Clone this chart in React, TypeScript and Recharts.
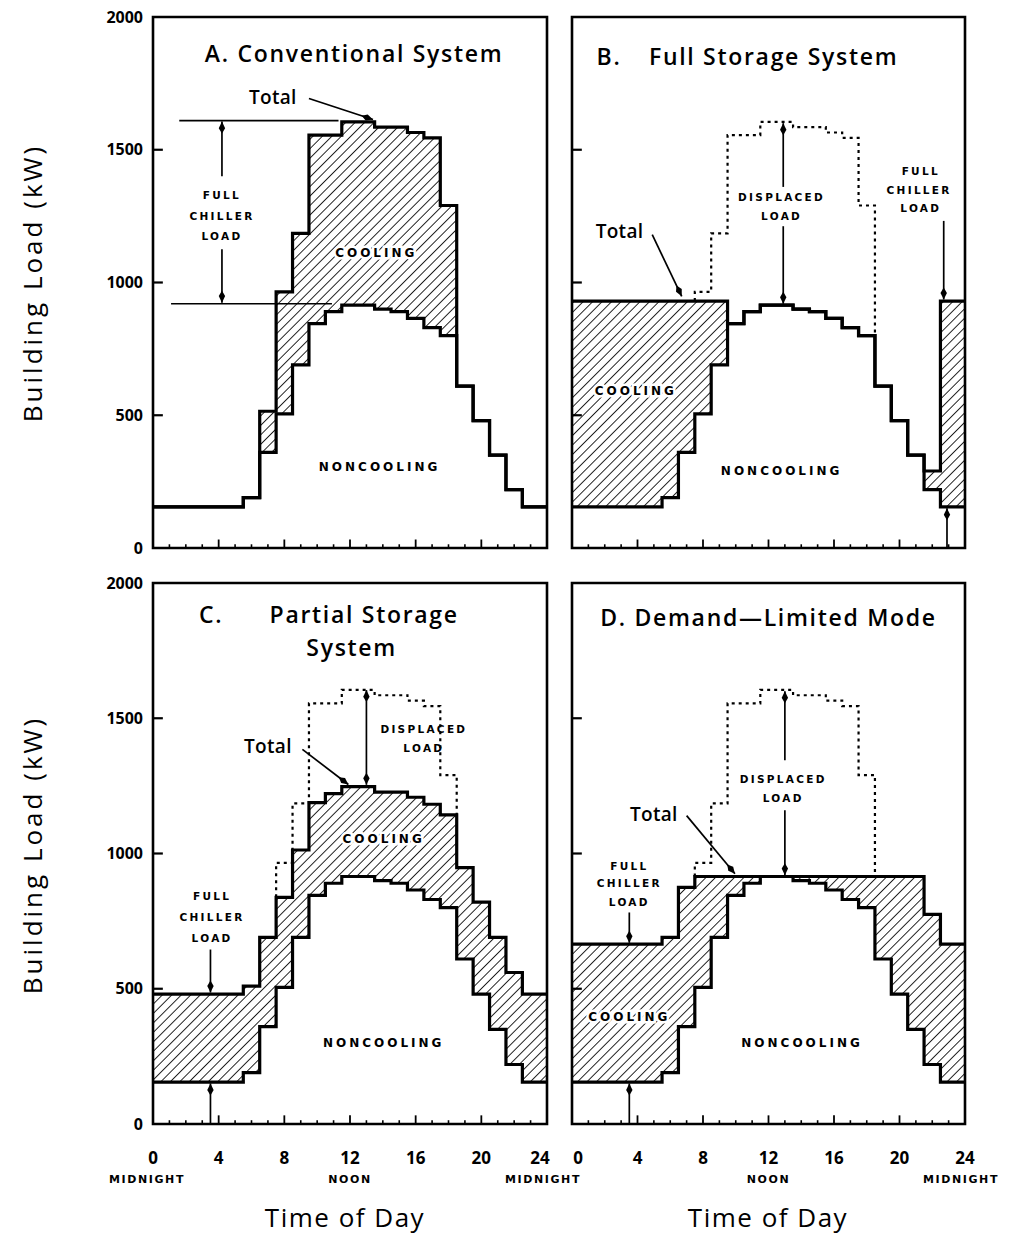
import React from 'react';
import {
  ComposedChart,
  Area,
  Line,
  XAxis,
  YAxis,
  ReferenceLine,
  ReferenceDot,
  ReferenceArea,
} from 'recharts';

// ---------------- data ----------------
// each hourly value h applies from h-0.5 to h+0.5 (clipped to the day)
const HOUR_STARTS = [0, 0.5, 1.5, 2.5, 3.5, 4.5, 5.5, 6.5, 7.5, 8.5, 9.5, 10.5, 11.5, 12.5, 13.5, 14.5, 15.5, 16.5, 17.5, 18.5, 19.5, 20.5, 21.5, 22.5, 23.5];
const DAY_END = 24;
const X_TICKS = [0, 4, 8, 12, 16, 20, 24];
const Y_TICKS = [0, 500, 1000, 1500, 2000];
const Y_INNER_TICKS = [500, 1000, 1500];
const MINOR_HOURS = [1, 2, 3, 5, 6, 7, 9, 10, 11, 13, 14, 15, 17, 18, 19, 21, 22, 23];
const MAJOR_HOURS = [4, 8, 12, 16, 20];

const NONCOOLING = [155, 155, 155, 155, 155, 155, 190, 360, 505, 690, 845, 890, 915, 915, 900, 890, 865, 830, 800, 610, 480, 350, 220, 155, 155];
const CONVENTIONAL_TOTAL = [155, 155, 155, 155, 155, 155, 190, 515, 965, 1185, 1555, 1555, 1605, 1605, 1585, 1585, 1565, 1545, 1290, 610, 480, 350, 220, 155, 155];
const FULL_STORAGE_TOTAL = [930, 930, 930, 930, 930, 930, 930, 930, 930, 930, 845, 890, 915, 915, 900, 890, 865, 830, 800, 610, 480, 350, 290, 930, 930];
const PARTIAL_STORAGE_TOTAL = [480, 480, 480, 480, 480, 480, 510, 690, 838, 1013, 1188, 1221, 1247, 1247, 1227, 1227, 1208, 1182, 1143, 948, 820, 690, 560, 480, 480];
const DEMAND_LIMITED_TOTAL = [665, 665, 665, 665, 665, 665, 690, 875, 915, 915, 915, 915, 915, 915, 915, 915, 915, 915, 915, 915, 915, 915, 775, 665, 665];

function buildRows(total: number[]) {
  const xs = [...HOUR_STARTS, DAY_END];
  return xs.map((x, i) => {
    const h = Math.min(i, 24);
    return { x, non: NONCOOLING[h], tot: total[h], cool: [NONCOOLING[h], total[h]] };
  });
}

// dotted "conventional" curve, drawn where it exceeds the panel's total
function buildDisplaced(total: number[]) {
  const pts: { x: number; y: number | null }[] = [];
  for (let h = 0; h <= 24; h++) {
    const x = HOUR_STARTS[h];
    const on = CONVENTIONAL_TOTAL[h] > total[h];
    const prevOn = h > 0 && CONVENTIONAL_TOTAL[h - 1] > total[h - 1];
    if (on && !prevOn) {
      pts.push({ x, y: total[h] });
      pts.push({ x, y: CONVENTIONAL_TOTAL[h] });
    } else if (on) {
      pts.push({ x, y: CONVENTIONAL_TOTAL[h] });
    } else if (prevOn) {
      pts.push({ x, y: total[h - 1] });
      pts.push({ x, y: null });
    }
  }
  return pts;
}

// ---------------- styles ----------------
const FONT = "'Open Sans', 'DejaVu Sans', sans-serif";
const CAPS = "'DejaVu Sans', sans-serif";

type Kind = 'title' | 'total' | 'caps' | 'small';
const KIND_STYLE: Record<Kind, any> = {
  title: { fontFamily: FONT, fontSize: 23, fontWeight: 600, letterSpacing: 1.7 },
  total: { fontFamily: FONT, fontSize: 19, fontWeight: 600, letterSpacing: 0.3 },
  caps: { fontFamily: CAPS, fontSize: 12, fontWeight: 700, letterSpacing: 3 },
  small: { fontFamily: CAPS, fontSize: 10.5, fontWeight: 700, letterSpacing: 2.3 },
};

function note(x: number, y: number, text: string, kind: Kind, anchor: 'middle' | 'start' = 'middle') {
  const st = KIND_STYLE[kind];
  const halo = kind === 'caps';
  return (
    <ReferenceDot
      key={`n-${x}-${y}-${text}`}
      x={x}
      y={y}
      r={0}
      ifOverflow="visible"
      shape={(p: any) => (
        <text
          x={p.cx}
          y={p.cy}
          textAnchor={anchor}
          dominantBaseline="central"
          fill="#000"
          stroke={halo ? '#fff' : 'none'}
          strokeWidth={halo ? 5 : 0}
          paintOrder="stroke"
          style={st}
        >
          {text}
        </text>
      )}
    />
  );
}

function arrowShape(heads: 'end' | 'both', hl = 12, hw = 3.2, sw = 1.7) {
  return (p: any) => {
    const { x1, y1, x2, y2 } = p;
    const dx = x2 - x1;
    const dy = y2 - y1;
    const len = Math.hypot(dx, dy) || 1;
    const ux = dx / len;
    const uy = dy / len;
    const nx = -uy;
    const ny = ux;
    const head = (tx: number, ty: number, sx: number, sy: number) =>
      `${tx},${ty} ${tx - sx * hl * 0.55 + nx * hw},${ty - sy * hl * 0.55 + ny * hw} ${tx - sx * hl},${ty - sy * hl} ${tx - sx * hl * 0.55 - nx * hw},${ty - sy * hl * 0.55 - ny * hw}`;
    return (
      <g>
        <line x1={x1} y1={y1} x2={x2} y2={y2} stroke="#000" strokeWidth={sw} />
        <polygon points={head(x2, y2, ux, uy)} fill="#000" />
        {heads === 'both' && <polygon points={head(x1, y1, -ux, -uy)} fill="#000" />}
      </g>
    );
  };
}

function arrow(x1: number, y1: number, x2: number, y2: number, heads: 'end' | 'both' = 'end') {
  return (
    <ReferenceLine
      key={`a-${x1}-${y1}-${x2}-${y2}`}
      segment={[{ x: x1, y: y1 }, { x: x2, y: y2 }]}
      ifOverflow="visible"
      shape={arrowShape(heads)}
    />
  );
}

function seg(x1: number, y1: number, x2: number, y2: number, w = 1.7, key = '') {
  return (
    <ReferenceLine
      key={`s-${key}-${x1}-${y1}-${x2}-${y2}`}
      segment={[{ x: x1, y: y1 }, { x: x2, y: y2 }]}
      stroke="#000"
      strokeWidth={w}
      ifOverflow="visible"
    />
  );
}

const renderXTick = (side: 'left' | 'right') => (p: any) => {
  const v = p.payload.value;
  let shift = 0;
  if (side === 'left' && v === 24) shift = -7;
  if (side === 'right' && v === 0) shift = 6;
  let sub = '';
  if (v === 12) sub = 'NOON';
  if (v === 24) sub = 'MIDNIGHT';
  if (v === 0 && side === 'left') sub = 'MIDNIGHT';
  return (
    <g>
      <text
        x={p.x + shift}
        y={p.y + 32}
        textAnchor="middle"
        fill="#000"
        style={{ fontFamily: FONT, fontSize: 17, fontWeight: 700 }}
      >
        {v}
      </text>
      {sub && (
        <text
          x={p.x + (v === 24 ? -4 : v === 0 ? -6 : 0)}
          y={p.y + 51}
          textAnchor="middle"
          fill="#000"
          style={{ fontFamily: CAPS, fontSize: 11, fontWeight: 700, letterSpacing: 1.6 }}
        >
          {sub}
        </text>
      )}
    </g>
  );
};

interface PanelProps {
  id: string;
  left: number;
  top: number;
  width: number;
  height: number;
  margin: { top: number; right: number; bottom: number; left: number };
  total: number[];
  displaced: boolean;
  showY: boolean;
  showX: boolean;
  side: 'left' | 'right';
  notes: React.ReactNode[];
}

function Panel(props: PanelProps) {
  const { id, left, top, width, height, margin, total, displaced, showY, showX, side, notes } = props;
  const rows = buildRows(total);
  const dotted = displaced ? buildDisplaced(total) : null;
  return (
    <div style={{ position: 'absolute', left, top }}>
      <ComposedChart width={width} height={height} data={rows} margin={margin}>
        <defs>
          <pattern id={id} patternUnits="userSpaceOnUse" width="6.7" height="6.7" patternTransform="rotate(45)">
            <line x1="0" y1="0" x2="0" y2="6.7" stroke="#000" strokeWidth="1.7" />
          </pattern>
        </defs>
        <XAxis
          type="number"
          dataKey="x"
          domain={[0, 24]}
          ticks={X_TICKS}
          interval={0}
          hide={!showX}
          height={66}
          axisLine={false}
          tickLine={false}
          tick={renderXTick(side)}
        />
        <YAxis
          type="number"
          domain={[0, 2000]}
          ticks={Y_TICKS}
          interval={0}
          hide={!showY}
          width={93}
          axisLine={false}
          tickLine={false}
          tickMargin={4}
          tick={{ fill: '#000', fontSize: 16, fontWeight: 700, fontFamily: FONT }}
        />
        <Area
          dataKey="cool"
          type="stepAfter"
          fill={`url(#${id})`}
          fillOpacity={1}
          stroke="none"
          isAnimationActive={false}
          activeDot={false}
        />
        <Line dataKey="non" type="stepAfter" stroke="#000" strokeWidth={3.2} dot={false} activeDot={false} isAnimationActive={false} />
        <Line dataKey="tot" type="stepAfter" stroke="#000" strokeWidth={3.2} dot={false} activeDot={false} isAnimationActive={false} />
        {dotted && (
          <Line
            data={dotted}
            dataKey="y"
            type="stepAfter"
            stroke="#000"
            strokeWidth={2.2}
            strokeDasharray="3 4"
            connectNulls={false}
            dot={false}
            activeDot={false}
            isAnimationActive={false}
          />
        )}
        <ReferenceArea x1={0} x2={24} y1={0} y2={2000} fill="none" stroke="#000" strokeWidth={2.6} ifOverflow="visible" />
        {Y_INNER_TICKS.map((v) => seg(0, v, 0.6, v, 2.2, 'y'))}
        {MINOR_HOURS.map((h) => seg(h, 0, h, 14, 1.6, 'mi'))}
        {MAJOR_HOURS.map((h) => seg(h, 0, h, 32, 1.8, 'ma'))}
        {notes}
      </ComposedChart>
    </div>
  );
}

const notesA = [
  note(12.25, 1865, 'A. Conventional System', 'title'),
  note(7.3, 1700, 'Total', 'total'),
  arrow(9.5, 1693, 13.4, 1614),
  seg(1.6, 1610, 11.3, 1610, 1.7, 'fa'),
  seg(1.1, 920, 10.9, 920, 1.7, 'fb'),
  arrow(4.2, 1400, 4.2, 1606),
  arrow(4.2, 1125, 4.2, 924),
  note(4.2, 1328, 'FULL', 'small'),
  note(4.2, 1252, 'CHILLER', 'small'),
  note(4.2, 1176, 'LOAD', 'small'),
  note(13.6, 1110, 'COOLING', 'caps'),
  note(13.8, 305, 'NONCOOLING', 'caps'),
];

const notesB = [
  note(1.5, 1853, 'B.', 'title', 'start'),
  note(4.7, 1853, 'Full Storage System', 'title', 'start'),
  note(2.9, 1195, 'Total', 'total'),
  arrow(4.9, 1180, 6.7, 948),
  note(12.8, 1322, 'DISPLACED', 'small'),
  note(12.8, 1250, 'LOAD', 'small'),
  arrow(12.9, 1360, 12.9, 1600),
  arrow(12.9, 1212, 12.9, 920),
  note(21.3, 1420, 'FULL', 'small'),
  note(21.2, 1350, 'CHILLER', 'small'),
  note(21.3, 1280, 'LOAD', 'small'),
  arrow(22.7, 1232, 22.7, 936),
  arrow(22.9, 0, 22.9, 150),
  note(3.9, 592, 'COOLING', 'caps'),
  note(12.8, 289, 'NONCOOLING', 'caps'),
];

const notesC = [
  note(2.8, 1885, 'C.', 'title', 'start'),
  note(7.1, 1885, 'Partial Storage', 'title', 'start'),
  note(12.1, 1762, 'System', 'title'),
  note(7.0, 1396, 'Total', 'total'),
  arrow(9.1, 1385, 11.9, 1255),
  note(16.5, 1461, 'DISPLACED', 'small'),
  note(16.5, 1390, 'LOAD', 'small'),
  arrow(13.0, 1254, 13.0, 1604, 'both'),
  note(14.05, 1052, 'COOLING', 'caps'),
  note(14.05, 299, 'NONCOOLING', 'caps'),
  note(3.6, 844, 'FULL', 'small'),
  note(3.6, 766, 'CHILLER', 'small'),
  note(3.6, 688, 'LOAD', 'small'),
  arrow(3.5, 645, 3.5, 486),
  arrow(3.5, 0, 3.5, 150),
];

const notesD = [
  note(12.0, 1875, 'D. Demand—Limited Mode', 'title'),
  note(5.0, 1147, 'Total', 'total'),
  arrow(7.0, 1140, 9.95, 925),
  note(12.9, 1276, 'DISPLACED', 'small'),
  note(12.9, 1205, 'LOAD', 'small'),
  arrow(13.0, 1345, 13.0, 1600),
  arrow(13.0, 1160, 13.0, 920),
  note(3.5, 955, 'FULL', 'small'),
  note(3.5, 891, 'CHILLER', 'small'),
  note(3.5, 820, 'LOAD', 'small'),
  arrow(3.5, 782, 3.5, 670),
  note(3.5, 397, 'COOLING', 'caps'),
  note(14.05, 301, 'NONCOOLING', 'caps'),
  arrow(3.5, 0, 3.5, 150),
];

const axisTitle: React.CSSProperties = {
  position: 'absolute',
  fontFamily: FONT,
  fontWeight: 500,
  color: '#000',
  whiteSpace: 'nowrap',
  lineHeight: 1.2,
};

export default function App() {
  return (
    <div style={{ position: 'absolute', left: 0, top: 0, width: 1011, height: 1237, background: '#fff' }}>
      <Panel
        id="hatchA"
        left={60}
        top={0}
        width={527}
        height={560}
        margin={{ top: 17, right: 40, bottom: 12, left: 0 }}
        total={CONVENTIONAL_TOTAL}
        displaced={false}
        showY={true}
        showX={false}
        side="left"
        notes={notesA}
      />
      <Panel
        id="hatchB"
        left={562}
        top={0}
        width={449}
        height={560}
        margin={{ top: 17, right: 46, bottom: 12, left: 10 }}
        total={FULL_STORAGE_TOTAL}
        displaced={true}
        showY={false}
        showX={false}
        side="right"
        notes={notesB}
      />
      <Panel
        id="hatchC"
        left={60}
        top={566}
        width={527}
        height={624}
        margin={{ top: 17, right: 40, bottom: 0, left: 0 }}
        total={PARTIAL_STORAGE_TOTAL}
        displaced={true}
        showY={true}
        showX={true}
        side="left"
        notes={notesC}
      />
      <Panel
        id="hatchD"
        left={562}
        top={566}
        width={449}
        height={624}
        margin={{ top: 17, right: 46, bottom: 0, left: 10 }}
        total={DEMAND_LIMITED_TOTAL}
        displaced={true}
        showY={false}
        showX={true}
        side="right"
        notes={notesD}
      />
      <div style={{ ...axisTitle, left: 33, top: 283, fontSize: 26, letterSpacing: 3, transform: 'translate(-50%, -50%) rotate(-90deg)' }}>
        Building Load (kW)
      </div>
      <div style={{ ...axisTitle, left: 33, top: 855, fontSize: 26, letterSpacing: 3, transform: 'translate(-50%, -50%) rotate(-90deg)' }}>
        Building Load (kW)
      </div>
      <div style={{ ...axisTitle, left: 345, top: 1218, fontSize: 26, letterSpacing: 1.5, transform: 'translate(-50%, -50%)' }}>
        Time of Day
      </div>
      <div style={{ ...axisTitle, left: 768, top: 1218, fontSize: 26, letterSpacing: 1.5, transform: 'translate(-50%, -50%)' }}>
        Time of Day
      </div>
    </div>
  );
}
